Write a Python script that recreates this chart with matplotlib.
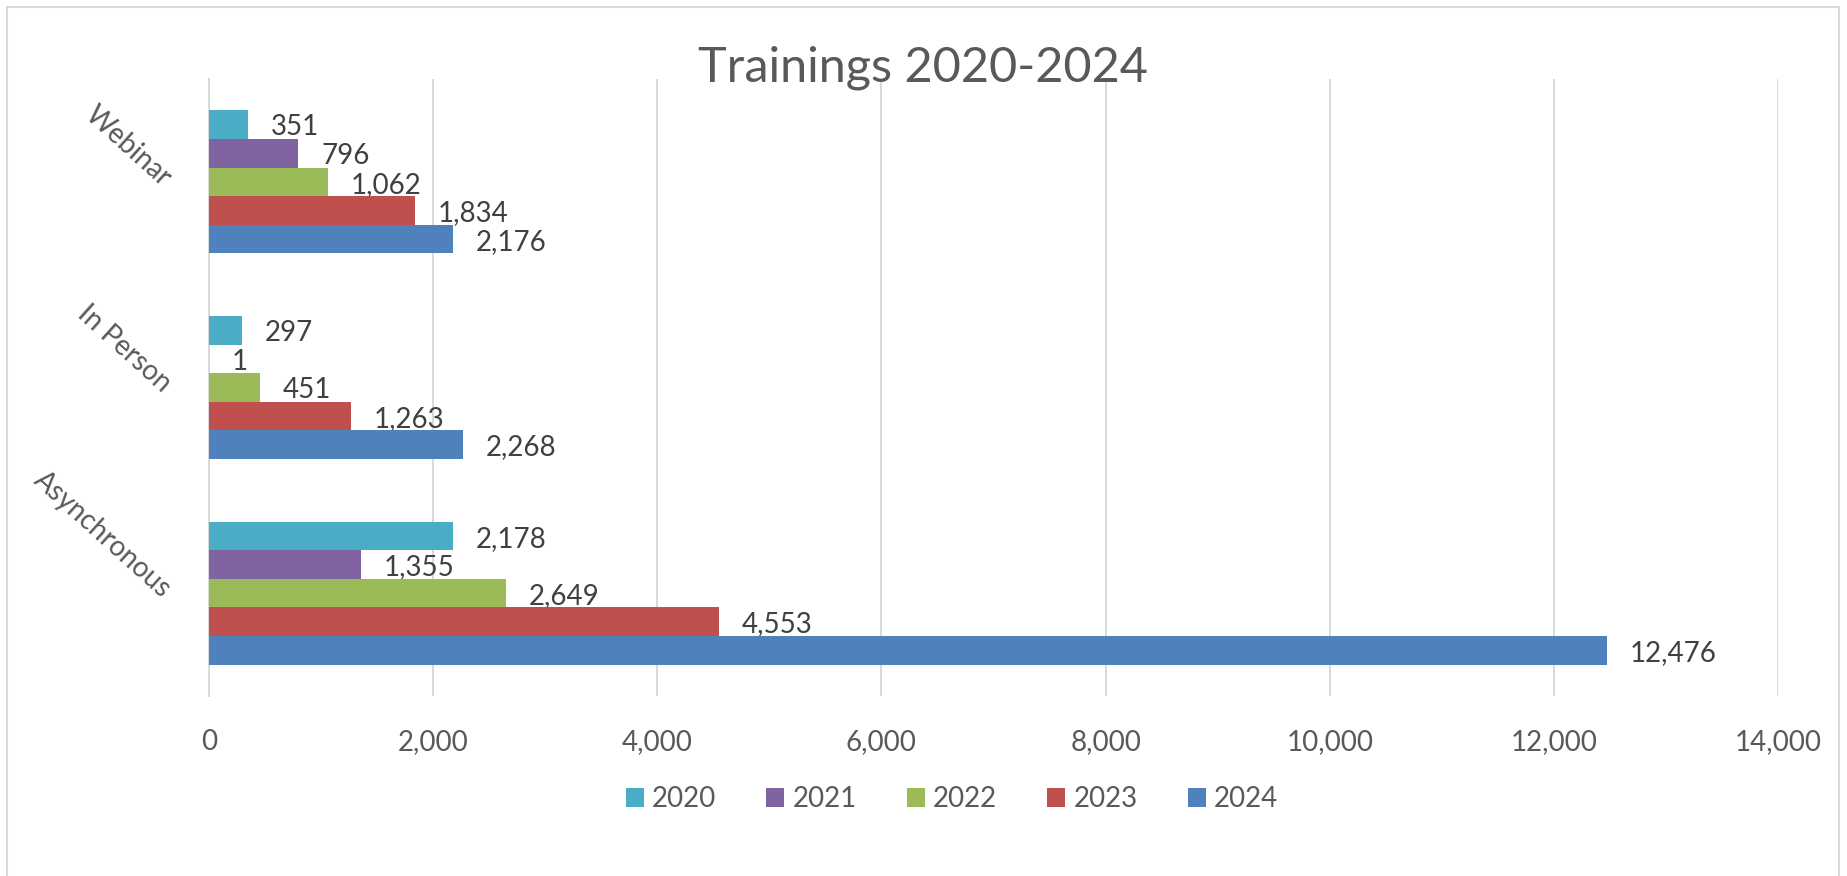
import matplotlib.pyplot as plt
from matplotlib.patches import Rectangle

categories = ['Asynchronous', 'In Person', 'Webinar']
years = ['2020', '2021', '2022', '2023', '2024']
# values per year, in category order above
v2020 = [2178, 297, 351]
v2021 = [1355, 1, 796]
v2022 = [2649, 451, 1062]
v2023 = [4553, 1263, 1834]
v2024 = [12476, 2268, 2176]
colors = ['#4bacc6', '#8064a2', '#9bbb59', '#c0504d', '#4f81bd']
xticks = [0, 2000, 4000, 6000, 8000, 10000, 12000, 14000]

plt.rcParams['font.family'] = ['Lato', 'DejaVu Sans']

fig = plt.figure(figsize=(18.47, 8.76), dpi=100)
ax = fig.add_axes([209/1847, 1 - 696/876, (1778 - 209)/1847, (696 - 79)/876])

h = 0.139
bars = []
for i, vals in enumerate([v2020, v2021, v2022, v2023, v2024]):
    pos = [k + (2 - i) * h for k in range(len(categories))]
    b = ax.barh(pos, vals, height=h, color=colors[i], label=years[i], zorder=3)
    bars.append(b)
    for p, v in zip(pos, vals):
        ax.annotate(f'{v:,}', (v, p), xytext=(16.5, -2), textcoords='offset points',
                    ha='left', va='center', fontsize=20, color='#404040')

ax.set_xlim(0, 14000)
ax.set_ylim(-0.5, 2.5)
ax.set_xticks(xticks)
ax.set_xticklabels([f'{t:,}' for t in xticks])
ax.set_yticks(range(len(categories)))
ax.set_yticklabels(categories, rotation=-42, ha='right', va='center', rotation_mode='anchor')
ax.tick_params(axis='both', length=0, labelsize=20, labelcolor='#595959')
ax.tick_params(axis='x', pad=24)
ax.tick_params(axis='y', pad=30)
ax.grid(axis='x', color='#d9d9d9', linewidth=1.4, zorder=0)
for s in ['top', 'right', 'bottom']:
    ax.spines[s].set_visible(False)
ax.spines['left'].set_color('#d9d9d9')
ax.spines['left'].set_linewidth(1.4)

fig.text(0.5, 1 - 82/876, 'Trainings 2020-2024', ha='center', va='baseline',
         fontsize=35, color='#595959')

fig.legend(handles=bars, labels=years, loc='center', bbox_to_anchor=(952/1847, 1 - 799/876),
           ncol=5, frameon=False, fontsize=20, labelcolor='#595959',
           handlelength=0.65, handleheight=0.65, handletextpad=0.3, columnspacing=1.8)

fig.patches.append(Rectangle((7/1847, -0.05), (1839 - 7)/1847, 1 - 7/876 + 0.05,
                             transform=fig.transFigure, fill=False,
                             edgecolor='#d9d9d9', linewidth=1.5))

plt.savefig('out.png', dpi=100)
